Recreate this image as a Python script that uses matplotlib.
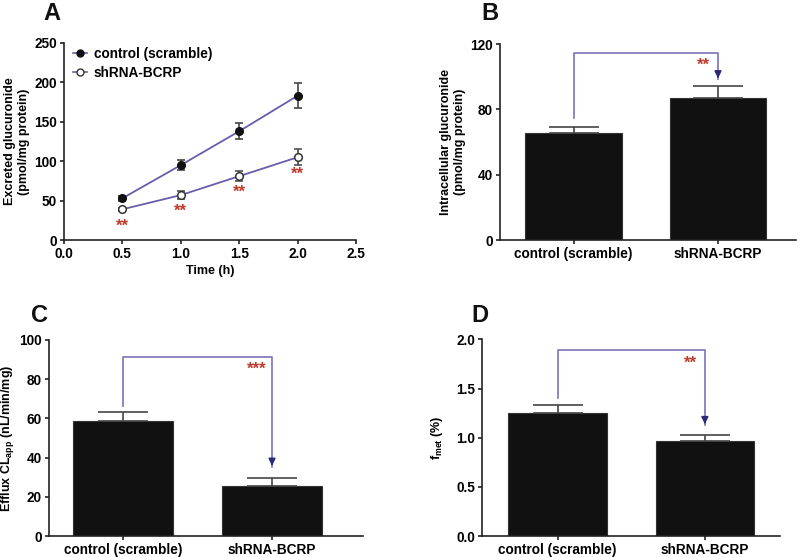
import matplotlib.pyplot as plt
import matplotlib as mpl
from matplotlib.lines import Line2D
import numpy as np

mpl.rcParams['font.family'] = ['Liberation Sans', 'DejaVu Sans']
mpl.rcParams['font.weight'] = 'bold'
mpl.rcParams['axes.labelweight'] = 'bold'
mpl.rcParams['mathtext.fontset'] = 'custom'
mpl.rcParams['mathtext.rm'] = 'Liberation Sans:bold'
mpl.rcParams['mathtext.bf'] = 'Liberation Sans:bold'

# panel A data
time_h = [0.5, 1.0, 1.5, 2.0]
ctrl_exc = [53, 95, 138, 183]
ctrl_exc_err = [3, 6, 10, 16]
sh_exc = [39, 57, 81, 105]
sh_exc_err = [2, 5, 6, 10]

groups = ['control (scramble)', 'shRNA-BCRP']
# panel B
intra = [65.5, 87]
intra_err = [4, 7]
# panel C
efflux = [58.5, 25.5]
efflux_err = [5, 4]
# panel D
fmet = [1.25, 0.97]
fmet_err = [0.08, 0.06]

line_col = '#6a5cab'
brk_col = '#7d72b8'
arrow_col = '#2b2878'
star_col = '#c0392b'
err_col = '#444444'

fig = plt.figure(figsize=(8, 5.57), dpi=100)


def style(ax):
    for s in ['top', 'right']:
        ax.spines[s].set_visible(False)
    for s in ['left', 'bottom']:
        ax.spines[s].set_linewidth(1.2)
        ax.spines[s].set_color('#222222')
    ax.tick_params(labelsize=9.8, width=1.2, length=3, pad=2, color='#222222')


def bar_panel(rect, vals, errs, ylim, yticks, ylabel, br, stars, xlim, labelpad=4):
    ax = fig.add_axes(rect)
    style(ax)
    x = np.arange(len(vals))
    ax.bar(x, vals, width=0.67, color='#111111', edgecolor='#333333', lw=0.8, zorder=2)
    ax.errorbar(x, vals, yerr=[np.zeros(len(errs)), errs], fmt='none',
                ecolor=err_col, elinewidth=1.2, capsize=18, capthick=1.2, zorder=3)
    ax.set_xlim(*xlim)
    ax.set_ylim(*ylim)
    ax.set_yticks(yticks)
    ax.set_xticks(x)
    ax.set_xticklabels(groups)
    ax.set_ylabel(ylabel, fontsize=9, labelpad=labelpad)
    top, lo, hi, sy = br
    ax.plot([0, 0, 1, 1], [lo, top, top, hi], color=brk_col, lw=1.2, zorder=4)
    ax.annotate('', xy=(1, hi - 0.01 * (ylim[1] - ylim[0])),
                xytext=(1, hi + 0.03 * (ylim[1] - ylim[0])),
                arrowprops=dict(arrowstyle='-|>', color=arrow_col, lw=1.2,
                                mutation_scale=10), zorder=5)
    ax.text(0.9, sy, stars, color=star_col, fontsize=12, ha='center', va='center')
    return ax


# A
axA = fig.add_axes([0.08, 0.569, 0.365, 0.354])
style(axA)
axA.errorbar(time_h, ctrl_exc, yerr=ctrl_exc_err, fmt='-o', color=line_col, lw=1.3,
             mfc='#111111', mec='#111111', ms=5.5, ecolor=err_col, elinewidth=1.2,
             capsize=3, capthick=1.2, zorder=3)
axA.errorbar(time_h, sh_exc, yerr=sh_exc_err, fmt='-o', color=line_col, lw=1.3,
             mfc='white', mec='#333333', mew=1.1, ms=5.5, ecolor=err_col,
             elinewidth=1.2, capsize=3, capthick=1.2, zorder=3)
for t, v in zip(time_h, sh_exc):
    axA.text(t, v - 21, '**', color=star_col, fontsize=12, ha='center', va='center')
axA.set_xlim(0, 2.5)
axA.set_ylim(0, 250)
axA.set_xticks([0, 0.5, 1.0, 1.5, 2.0, 2.5])
axA.set_xticklabels(['0.0', '0.5', '1.0', '1.5', '2.0', '2.5'])
axA.set_yticks([0, 50, 100, 150, 200, 250])
axA.set_xlabel('Time (h)', fontsize=9, labelpad=3)
axA.set_ylabel('Excreted glucuronide\n(pmol/mg protein)', fontsize=9, labelpad=3)
handles = [Line2D([], [], color=line_col, lw=1.2, marker='o', ms=5, mfc='#111111',
                  mec='#111111'),
           Line2D([], [], color=line_col, lw=1.2, marker='o', ms=5, mfc='white',
                  mec='#333333')]
axA.legend(handles, ['control (scramble)', 'shRNA-BCRP'], loc='upper left',
           bbox_to_anchor=(-0.01, 1.04), frameon=False, fontsize=9.8,
           handlelength=1.0, handletextpad=0.5, labelspacing=0.35)

# B
bar_panel([0.625, 0.569, 0.37, 0.352], intra, intra_err, (0, 120), [0, 40, 80, 120],
          'Intracellular glucuronide\n(pmol/mg protein)', (114.7, 74.5, 98.5, 107), '**',
          (-0.51, 1.54), labelpad=3)

# C
bar_panel([0.061, 0.0377, 0.3925, 0.352], efflux, efflux_err, (0, 100),
          [0, 20, 40, 60, 80, 100], r'Efflux CL$_{\mathbf{app}}$ (nL/min/mg)',
          (91.2, 66.3, 35.4, 85), '***', (-0.5, 1.61), labelpad=2)

# D
axD = bar_panel([0.603, 0.0377, 0.372, 0.353], fmet, fmet_err, (0, 2.0),
                [0.0, 0.5, 1.0, 1.5, 2.0], r'f$_{\mathbf{met}}$ (%)',
                (1.89, 1.40, 1.13, 1.76), '**', (-0.51, 1.51), labelpad=8)
axD.set_yticklabels(['0.0', '0.5', '1.0', '1.5', '2.0'])

for lab, x, y in [('A', 52, 13), ('B', 490, 13), ('C', 40, 315), ('D', 480, 315)]:
    fig.text(x / 800, 1 - y / 557, lab, fontsize=17, fontweight='bold',
             ha='center', va='center', color='#111111')

fig.savefig('out.png', dpi=100)
